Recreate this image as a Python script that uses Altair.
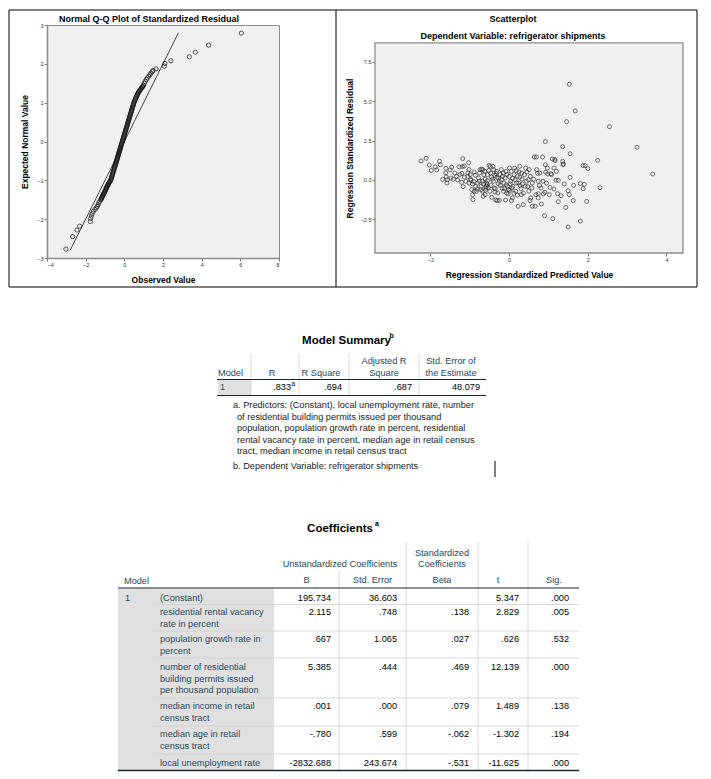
import altair as alt
import pandas as pd

FONT = "Liberation Sans"

# ---------------- Normal Q-Q plot (observed vs expected) ----------------
qq_observed = [
    -3.02, -2.67, -2.45, -2.31, -1.76, -1.74, -1.70, -1.66, -1.60, -1.52, -1.45, -1.40, -1.36, -1.32, -1.27, -1.22,
    -1.18, -1.14, -1.10, -1.06, -1.02, -0.98, -0.94, -0.90, -0.86, -0.82, -0.77, -0.72,
    -0.68, -0.65, -0.62, -0.59, -0.56, -0.53, -0.50, -0.47, -0.44, -0.41, -0.38, -0.35, -0.32, -0.29, -0.26, -0.23, -0.20, -0.17, -0.14, -0.11,
    -0.08, -0.05, -0.02, 0.01, 0.04, 0.07, 0.10, 0.13, 0.16, 0.19, 0.22, 0.25, 0.28, 0.31, 0.34, 0.37, 0.40, 0.43, 0.46, 0.49,
    0.53, 0.57, 0.61, 0.66, 0.71, 0.76, 0.82, 0.88, 0.94, 0.99,
    1.03, 1.08, 1.14, 1.20, 1.26, 1.32, 1.38, 1.45, 1.48, 1.64, 2.07, 2.10, 2.41, 3.36, 3.67, 4.36, 6.05,
]
qq_expected = [
    -2.77, -2.45, -2.28, -2.18, -2.06, -1.98, -1.92, -1.86, -1.80, -1.75, -1.71, -1.67, -1.63, -1.58, -1.54, -1.50,
    -1.46, -1.42, -1.38, -1.34, -1.30, -1.26, -1.21, -1.17, -1.13, -1.09, -1.05, -1.01,
    -0.96, -0.91, -0.86, -0.81, -0.76, -0.71, -0.66, -0.61, -0.56, -0.51, -0.46, -0.41, -0.36, -0.31, -0.26, -0.21, -0.16, -0.11, -0.06, -0.01,
    0.04, 0.09, 0.14, 0.19, 0.24, 0.29, 0.34, 0.39, 0.44, 0.49, 0.54, 0.59, 0.64, 0.69, 0.74, 0.79, 0.84, 0.89, 0.94, 0.99,
    1.04, 1.09, 1.14, 1.19, 1.24, 1.29, 1.33, 1.37, 1.41, 1.45,
    1.50, 1.55, 1.60, 1.64, 1.68, 1.72, 1.76, 1.80, 1.83, 1.87, 1.94, 2.01, 2.08, 2.18, 2.30, 2.48, 2.79,
]
# further readings inside the dense black band of the Q-Q plot
qq_observed_band = [
    -1.20, -1.16, -1.12, -1.08, -1.04, -1.00, -0.96, -0.92, -0.88, -0.84, -0.795, -0.745, -0.70,
    -0.665, -0.635, -0.605, -0.575, -0.545, -0.515, -0.485, -0.455, -0.425, -0.395,
    -0.365, -0.335, -0.305, -0.275, -0.245, -0.215, -0.185, -0.155, -0.125, -0.095,
    -0.065, -0.035, -0.005, 0.025, 0.055, 0.085, 0.115, 0.145, 0.175, 0.205,
    0.235, 0.265, 0.295, 0.325, 0.355, 0.385, 0.415, 0.445, 0.475, 0.51,
    0.55, 0.59, 0.635, 0.685, 0.735, 0.79, 0.85, 0.91, 0.965,
]
qq_expected_band = [
    -1.48, -1.44, -1.40, -1.36, -1.32, -1.28, -1.235, -1.19, -1.15, -1.11, -1.07, -1.03, -0.985,
    -0.935, -0.885, -0.835, -0.785, -0.735, -0.685, -0.635, -0.585, -0.535, -0.485,
    -0.435, -0.385, -0.335, -0.285, -0.235, -0.185, -0.135, -0.085, -0.035, 0.015,
    0.065, 0.115, 0.165, 0.215, 0.265, 0.315, 0.365, 0.415, 0.465, 0.515,
    0.565, 0.615, 0.665, 0.715, 0.765, 0.815, 0.865, 0.915, 0.965, 1.015,
    1.065, 1.115, 1.165, 1.215, 1.265, 1.31, 1.35, 1.39, 1.43,
]
qq_line_x = [-2.8, 2.8]
qq_line_y = [-2.8, 2.8]

# ---------------- Scatterplot (predicted vs residual) ----------------
pred = [
    1.53, 1.68, 1.46, 2.55, 3.25, 3.65, 0.92, 1.36, 1.55, 2.25,
    1.88, 1.93, 2.00, 2.31, 1.97, 1.81, 1.50, 1.11, 0.90, 1.44,
    1.63, 1.25, 1.53, 1.50, 1.55, 1.64, 1.81, 1.91, 1.88, 1.40,
    1.36, 1.38, 1.16, 1.14, -2.24, -2.11, -2.03, -1.98, -1.88, -1.84,
    -1.77, -1.75, -1.69, -1.61, -1.61, -1.60, -1.58, -1.57, -1.50, -1.46,
    -1.42, -1.34, -1.31, -1.27, -1.21, -1.18, -1.19, -1.14, -1.20, -1.14,
    -1.10, -1.17, -1.03, -1.02, -0.99, -0.97, -1.02, -0.95, -0.93, -0.92,
    -0.89, -0.85, -0.83, -0.78, -0.74, -0.70, -0.67, -0.64, -0.68, -0.66,
    -0.61, -0.58, -0.56, -0.57, -0.53, -0.59, -0.51, -0.48, -0.47, -0.45,
    -0.49, -0.44, -0.41, -0.40, -0.36, -0.32, -0.31, -0.28, -0.30, -0.34,
    -0.25, -0.23, -0.20, -0.19, -0.18, -0.13, -0.10, -0.08, -0.09, -0.06,
    -0.04, -0.03, 0.00, 0.01, 0.03, 0.04, 0.07, 0.08, 0.06, 0.13,
    0.14, 0.17, 0.19, 0.21, 0.23, 0.25, 0.27, 0.27, 0.30, 0.31,
    0.34, 0.36, 0.39, 0.42, 0.44, 0.47, 0.49, 0.51, 0.53, 0.55,
    0.58, 0.59, 0.64, 0.69, 0.66, 0.70, 0.72, 0.74, 0.74, 0.74,
    0.78, 0.81, 0.82, 0.85, 0.87, 0.91, 0.92, 0.93, 0.98, 1.02,
    1.04, 1.06, 1.10, 1.14, 1.17, 1.19, 1.23, 1.25, 1.32, 1.37,
    -1.48, -1.38, -1.05, -0.93, -0.89, -0.81, -0.76, -0.71, -0.68, -0.61,
    -0.55, -0.38, -0.36, -0.29, -0.25, -0.17, -0.14, -0.07, -0.02, 0.05,
    0.10, 0.15, 0.21, 0.24, 0.32, 0.36, 0.41, 0.54, 0.59, 0.68,
    0.86, 0.97, 1.08,
    -1.25, -1.05, -0.98, -0.90, -0.86, -0.80, -0.75, -0.72, -0.65, -0.62,
    -0.60, -0.55, -0.52, -0.46, -0.43, -0.39, -0.35, -0.33, -0.27, -0.22,
    -0.15, -0.12, -0.05, 0.02, 0.09, 0.12, 0.18, 0.28, 0.33, 0.45,
    0.50, 0.62, 0.77, 0.95, 1.20,
]
resid = [
    6.08, 4.39, 3.71, 3.39, 2.08, 0.38, 2.44, 2.12, 1.67, 1.25,
    0.91, 0.91, 0.72, -0.49, -1.36, -2.61, -2.99, -2.46, -2.27, -1.74,
    -1.31, -1.38, -0.93, -0.68, 0.17, -0.34, -0.23, -0.28, -0.55, -0.25,
    1.19, 1.02, 1.31, 0.76, 1.21, 1.38, 0.95, 0.61, 0.83, 0.64,
    1.19, 0.97, 0.04, 0.74, 0.44, 0.19, -0.19, 0.02, 0.64, 0.81,
    0.04, 0.23, 0.00, 0.83, -0.15, 1.36, 0.85, 0.89, 0.42, 0.19,
    -0.08, -0.42, 1.10, 0.66, 0.34, -0.02, -0.19, -0.61, -0.93, -1.25,
    0.51, -0.42, -0.72, 0.13, 0.66, 0.68, 0.66, 0.34, -0.08, -1.04,
    -0.93, -0.40, -0.30, -0.20, -0.47, -0.51, 0.93, 0.85, 0.44, 0.19,
    -0.72, -1.10, 0.87, -0.08, -0.76, 0.55, 0.17, -0.23, -1.31, -1.27,
    -1.29, 0.34, 0.66, 0.02, -0.51, -0.19, 0.13, 0.55, -1.27, -0.83,
    -0.40, -0.89, 0.23, 0.76, -0.25, -0.08, -0.51, -1.14, -1.31, 0.34,
    0.76, -0.72, -0.19, -0.97, -1.67, 0.51, 0.87, 0.17, -0.55, -0.93,
    -0.25, -1.57, 0.34, 0.76, -0.08, -0.42, 0.02, 0.66, -1.31, -1.14,
    -0.51, -1.67, 1.46, 1.46, -1.67, 0.66, 0.42, -0.08, -0.87, -1.14,
    0.44, -0.51, -1.53, 1.46, -0.89, -0.78, 0.97, 0.49, 0.38, -0.93,
    -0.47, 0.40, 1.33, -0.57, 1.23, -0.02, -0.87, -0.02, -1.00, 0.97,
    0.13, 0.44, 0.23, -0.25, -0.72, -0.57, -0.08, -0.40, -0.72, 0.06,
    0.34, -0.51, 0.30, -0.83, -0.08, 0.23, -0.72, -0.30, -0.61, 0.55,
    -0.40, 0.02, 0.23, -0.19, 0.44, -0.83, -0.40, 0.23, -0.19, -0.93,
    -0.08, 0.76, 0.34,
    0.35, 0.45, 0.05, -0.10, 0.30, -0.20, 0.45, -0.62, -0.25, 0.55,
    -0.65, -0.05, 0.60, -0.35, 0.05, 0.65, -0.55, 0.40, 0.10, -0.35,
    0.45, -0.55, 0.35, -0.65, 0.10, -0.85, 0.60, -0.35, 0.05, 0.50,
    -0.70, 0.05, -0.35, -0.20, 0.55,
]
# extent of the scatterplot's data frame (x range, y range)
sc_frame_x = [-3.41, 4.42]
sc_frame_y = [-4.64, 8.71]

# ---------------- Model Summary table ----------------
ms_title = "Model Summary"
ms_title_note = "b"
ms_head_top = ["", "", "", "Adjusted R", "Std. Error of"]
ms_head_bottom = ["Model", "R", "R Square", "Square", "the Estimate"]
ms_values = ["1", ".833", ".694", ".687", "48.079"]
ms_value_notes = ["", "a", "", "", ""]
ms_footnote_a = [
    "a. Predictors: (Constant), local unemployment rate, number",
    "of residential building permits issued per thousand",
    "population, population growth rate in percent, residential",
    "rental vacancy rate in percent, median age in retail census",
    "tract, median income in retail census tract",
]
ms_footnote_b = "b. Dependent Variable: refrigerator shipments"

# ---------------- Coefficients table ----------------
coef_title = "Coefficients"
coef_title_note = "a"
coef_group_unstd = "Unstandardized Coefficients"
coef_group_std = ["Standardized", "Coefficients"]
coef_heads = ["B", "Std. Error", "Beta", "t", "Sig."]
coef_model = "1"
coef_terms = [
    ["(Constant)"],
    ["residential rental vacancy", "rate in percent"],
    ["population growth rate in", "percent"],
    ["number of residential", "building permits issued", "per thousand population"],
    ["median income in retail", "census tract"],
    ["median age in retail", "census tract"],
    ["local unemployment rate"],
]
coef_B = ["195.734", "2.115", ".667", "5.385", ".001", "-.780", "-2832.688"]
coef_SE = ["36.603", ".748", "1.065", ".444", ".000", ".599", "243.674"]
coef_Beta = ["", ".138", ".027", ".469", ".079", "-.062", "-.531"]
coef_t = ["5.347", "2.829", ".626", "12.139", "1.489", "-1.302", "-11.625"]
coef_sig = [".000", ".005", ".532", ".000", ".138", ".194", ".000"]

# ---------------- table layout (page pixel positions) ----------------
HEAD_C = "#264a60"
VAL_C = "#010205"
DARK = "#152935"
LIGHT = "#d0d0d0"
SHADE = "#e0e0e0"
FS = 9.2
LH = 11.5

texts = []   # normal weight
btexts = []  # bold


def add(lst, x, y, text, align, size=FS, color=VAL_C):
    lst.append(dict(x=x, y=y, text=text, align=align, size=size, color=color))


rules = []
rects = []

# frame around the two plots
frame = [dict(x=8, x2=696, y=9, y2=286)]
rules.append(dict(x=335, x2=335, y=9, y2=286, color="#000000", w=1))

# Model summary
add(btexts, 345.5, 340, ms_title, "center", 11.5, "#000000")
add(btexts, 388.5, 335, ms_title_note, "left", 7, "#000000")
ms_head_x = [217, 271, 320, 383, 450]
for i in range(5):
    al = "left" if i == 0 else "center"
    if ms_head_top[i]:
        add(texts, ms_head_x[i], 360, ms_head_top[i], al, FS, HEAD_C)
    add(texts, ms_head_x[i], 371.5, ms_head_bottom[i], al, FS, HEAD_C)
ms_val_x = [219, 290, 341, 411, 479]
for i in range(5):
    if i == 0:
        add(texts, ms_val_x[i], 386, ms_values[i], "left", FS, HEAD_C)
    else:
        add(texts, ms_val_x[i], 386, ms_values[i], "right", FS, VAL_C)
    if ms_value_notes[i]:
        add(texts, ms_val_x[i] + 0.5, 382.5, ms_value_notes[i], "left", 6.5, VAL_C)
rects.append(dict(x=217, x2=250, y=379, y2=394, fill=SHADE))
for xv in [250, 298, 348, 418]:
    rules.append(dict(x=xv, x2=xv, y=352, y2=394, color=LIGHT, w=0.8))
rules.append(dict(x=216, x2=485, y=378.5, y2=378.5, color=DARK, w=1))
rules.append(dict(x=216, x2=485, y=394.5, y2=394.5, color=DARK, w=1.2))
fy = 404
for j, line in enumerate(ms_footnote_a):
    add(texts, 232 if j == 0 else 236, fy + j * LH, line, "left", FS, "#222222")
add(texts, 232, 465, ms_footnote_b, "left", FS, "#222222")
rules.append(dict(x=494, x2=494, y=460, y2=476, color="#000000", w=1))

# Coefficients
add(btexts, 339, 528, coef_title, "center", 11.5, "#000000")
add(btexts, 374, 523, coef_title_note, "left", 7, "#000000")
add(texts, 339, 563, coef_group_unstd, "center", FS, HEAD_C)
add(texts, 441, 551.5, coef_group_std[0], "center", FS, HEAD_C)
add(texts, 441, 563, coef_group_std[1], "center", FS, HEAD_C)
head_x = [305.5, 371.5, 441, 497, 553]
for i, h in enumerate(coef_heads):
    add(texts, head_x[i], 579, h, "center", FS, HEAD_C)
add(texts, 123, 580, "Model", "left", FS, HEAD_C)

row_tops = [587, 603.5, 630, 657, 697, 725, 753]
row_first_y = [597, 611, 638, 666, 705, 733, 762]
val_right = [330, 396, 468, 518, 568]
rects.append(dict(x=117, x2=273, y=587.5, y2=769.5, fill=SHADE))
add(texts, 124, row_first_y[0], coef_model, "left", FS, HEAD_C)
cols = [coef_B, coef_SE, coef_Beta, coef_t, coef_sig]
for r, term in enumerate(coef_terms):
    for k, line in enumerate(term):
        add(texts, 159, row_first_y[r] + k * LH, line, "left", FS, HEAD_C)
    for c in range(5):
        if cols[c][r]:
            add(texts, val_right[c], row_first_y[r], cols[c][r], "right", FS, VAL_C)
    if r > 0:
        rules.append(dict(x=152, x2=578, y=row_tops[r], y2=row_tops[r], color=LIGHT, w=0.8))
for xv in [405, 477, 527]:
    rules.append(dict(x=xv, x2=xv, y=541, y2=769.5, color=LIGHT, w=0.8))
rules.append(dict(x=338, x2=338, y=570, y2=769.5, color=LIGHT, w=0.8))
rules.append(dict(x=117, x2=578, y=587, y2=587, color=DARK, w=1.2))
rules.append(dict(x=117, x2=578, y=769.5, y2=769.5, color=DARK, w=1.5))

# ---------------- charts ----------------
PLOT_FILL = "#f0f0f0"
PLOT_STROKE = "#8c8c8c"

# Q-Q plot
qq_df = pd.DataFrame({"obs": qq_observed + qq_observed_band, "exp": qq_expected + qq_expected_band})
qq_line_df = pd.DataFrame({"obs": qq_line_x, "exp": qq_line_y})
qx = alt.X("obs:Q", scale=alt.Scale(domain=[-4, 8], nice=False, zero=False),
           axis=alt.Axis(values=[-4, -2, 0, 2, 4, 6, 8], title="Observed Value", titlePadding=8))
qy = alt.Y("exp:Q", scale=alt.Scale(domain=[-3, 3], nice=False, zero=False),
           axis=alt.Axis(values=[-3, -2, -1, 0, 1, 2, 3], title="Expected Normal Value", titlePadding=7))
qq_pts = alt.Chart(qq_df).mark_point(shape="circle", filled=False, size=18, color="#111111",
                                     strokeWidth=1.0).encode(x=qx, y=qy)
qq_ln = alt.Chart(qq_line_df).mark_line(color="#1a1a1a", strokeWidth=0.8).encode(x=qx, y=qy)
qq = alt.layer(qq_ln, qq_pts).properties(
    width=232, height=233,
    view=alt.ViewBackground(fill=PLOT_FILL, stroke=PLOT_STROKE, strokeWidth=1),
    title=alt.Title("Normal Q-Q Plot of Standardized Residual", anchor="middle", dx=-14, offset=-1),
)

# Scatterplot (its cell starts 18px above its data frame; the frame is drawn as a rect)
SC_Y_TOP = 9.85
sx_scale = alt.Scale(domain=sc_frame_x, nice=False, zero=False)
sy_scale = alt.Scale(domain=[sc_frame_y[0], SC_Y_TOP], nice=False, zero=False)
sx_axis = alt.Axis(values=[-2, 0, 2, 4], title="Regression Standardized Predicted Value",
                   titlePadding=8, domain=False)
sy_axis = alt.Axis(values=[-2.5, 0, 2.5, 5, 7.5], format=".1f", domain=False,
                   title="Regression Standardized Residual", titlePadding=6, titleY=123)
sc_bg_df = pd.DataFrame({"x1": [sc_frame_x[0]], "x2": [sc_frame_x[1]],
                         "y1": [sc_frame_y[0]], "y2": [sc_frame_y[1]]})
sc_bg = alt.Chart(sc_bg_df).mark_rect(fill=PLOT_FILL, stroke=PLOT_STROKE, strokeWidth=1.3).encode(
    x=alt.X("x1:Q", scale=sx_scale, axis=sx_axis), x2=alt.X2("x2"),
    y=alt.Y("y1:Q", scale=sy_scale, axis=sy_axis), y2=alt.Y2("y2"))
sc_df = pd.DataFrame({"pred": pred, "resid": resid})
sc_pts = alt.Chart(sc_df).mark_point(shape="circle", filled=False, size=16, color="#1f1f1f",
                                     strokeWidth=0.9).encode(
    x=alt.X("pred:Q", scale=sx_scale, axis=sx_axis),
    y=alt.Y("resid:Q", scale=sy_scale, axis=sy_axis),
)
sc = alt.layer(sc_bg, sc_pts).properties(
    width=308, height=228,
    title=alt.Title("Scatterplot", subtitle="Dependent Variable: refrigerator shipments",
                    anchor="middle", dx=-16, offset=-16, subtitlePadding=8),
)

# Tables (drawn in page pixel units through linear scales)
XS = alt.Scale(domain=[46, 278], nice=False, zero=False)
YS = alt.Scale(domain=[300, 770], nice=False, zero=False, reverse=True)
tx = alt.X("x:Q", scale=XS, axis=None)
ty = alt.Y("y:Q", scale=YS, axis=None)

layers = []
layers.append(alt.Chart(pd.DataFrame(rects)).mark_rect().encode(
    x=tx, x2=alt.X2("x2"), y=ty, y2=alt.Y2("y2"), color=alt.Color("fill:N", scale=None)))
layers.append(alt.Chart(pd.DataFrame(frame)).mark_rect(fillOpacity=0, stroke="#000000", strokeWidth=1).encode(
    x=tx, x2=alt.X2("x2"), y=ty, y2=alt.Y2("y2")))
layers.append(alt.Chart(pd.DataFrame(rules)).mark_rule().encode(
    x=tx, x2=alt.X2("x2"), y=ty, y2=alt.Y2("y2"),
    color=alt.Color("color:N", scale=None), strokeWidth=alt.StrokeWidth("w:Q", scale=None)))

tdf = pd.DataFrame(texts)
bdf = pd.DataFrame(btexts)
for df, weight in [(tdf, "normal"), (bdf, "bold")]:
    for al in ["left", "center", "right"]:
        sub = df[df["align"] == al]
        if len(sub) == 0:
            continue
        layers.append(alt.Chart(sub).mark_text(align=al, baseline="middle", font=FONT, fontWeight=weight).encode(
            x=tx, y=ty, text="text:N", color=alt.Color("color:N", scale=None),
            size=alt.Size("size:Q", scale=None)))

tables = alt.layer(*layers).properties(width=232, height=470)

chart = alt.concat(
    qq, sc, tables, columns=2, spacing={"row": 43, "column": 96}, bounds="flush", align="each"
).properties(
    padding={"left": 0, "top": 1, "right": 0, "bottom": 0}
).configure(font=FONT).configure_view(stroke="transparent").configure_axis(
    labelFont=FONT, labelFontSize=5.5, labelColor="#333333", labelPadding=1,
    tickColor="#555555", tickSize=3, tickWidth=0.8,
    domainColor=PLOT_STROKE, domainWidth=1.6, grid=False,
    titleFont=FONT, titleFontSize=8.5, titleFontWeight="bold", titleColor="#000000",
).configure_title(
    font=FONT, fontSize=9, fontWeight="bold", color="#000000",
    subtitleFont=FONT, subtitleFontSize=9, subtitleFontWeight="bold", subtitleColor="#000000",
)

chart.save("out.html", embed_options={"renderer": "svg", "actions": False})
